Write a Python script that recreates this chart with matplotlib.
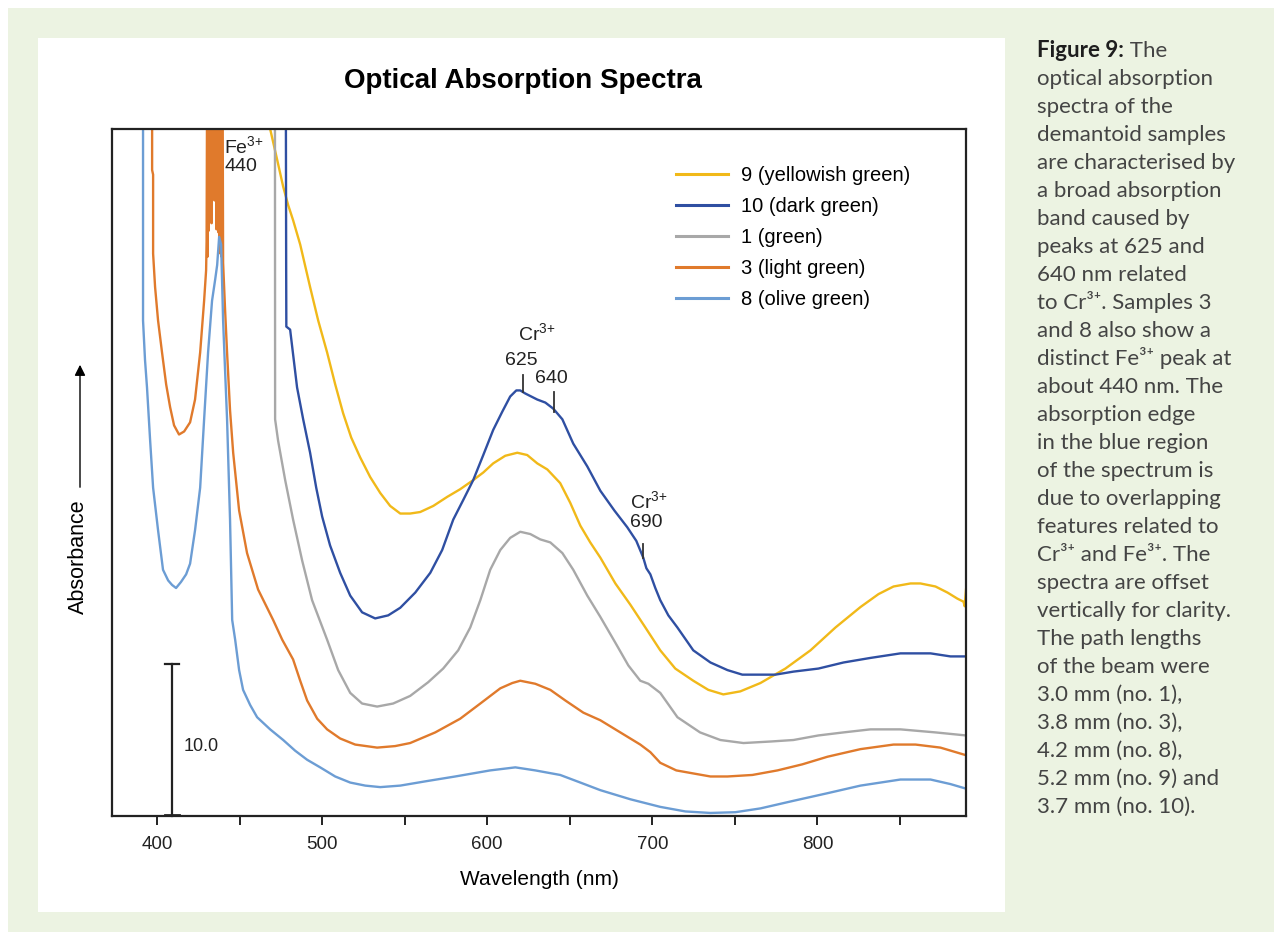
import matplotlib
matplotlib.use("Agg")
import matplotlib.pyplot as plt
from matplotlib.patches import Rectangle

plt.rcParams['font.family'] = ['Liberation Sans', 'DejaVu Sans']
plt.rcParams['mathtext.fontset'] = 'custom'
plt.rcParams['mathtext.rm'] = 'Liberation Sans'
plt.rcParams['mathtext.default'] = 'regular'

# spectra (wavelength in nm, absorbance in arbitrary offset units)
wl_9 = [468.0, 468.5, 472.7, 476.4, 479.4, 482.4, 486.7, 492.7, 497.6, 503.0, 507.9, 512.7, 517.6,
        523.0, 529.1, 535.2, 541.2, 547.3, 553.3, 559.4, 567.3, 575.8, 583.6, 591.5, 597.6, 603.6,
        610.9, 618.2, 624.2, 630.3, 636.4, 644.2, 650.3, 656.4, 662.4, 668.5, 677.6, 686.7, 695.8,
        704.8, 713.9, 724.8, 733.9, 743.0, 753.3, 765.5, 780.6, 795.8, 810.9, 826.1, 837.0, 846.1,
        856.4, 862.4, 871.5, 878.8, 884.8, 888.5, 889.2, 890.0]
ab_9 = [48.0, 45.2, 43.2, 41.4, 40.2, 39.2, 37.6, 34.8, 32.6, 30.5, 28.4, 26.5, 24.9,
        23.6, 22.3, 21.25, 20.4, 19.9, 19.9, 20.0, 20.4, 21.0, 21.5, 22.1, 22.6, 23.2,
        23.7, 23.9, 23.75, 23.2, 22.8, 21.9, 20.6, 19.1, 18.0, 17.0, 15.3, 13.9, 12.4,
        10.9, 9.7, 8.9, 8.3, 8.0, 8.2, 8.75, 9.7, 10.9, 12.4, 13.75, 14.6, 15.1,
        15.3, 15.3, 15.1, 14.7, 14.3, 14.1, 13.8, 14.9]

wl_10 = [478.0, 478.2, 478.3, 480.6, 484.8, 488.5, 492.7, 496.4, 500.0, 504.8, 510.9, 517.0, 524.2,
         532.1, 540.0, 547.3, 556.4, 565.5, 572.7, 579.4, 585.5, 591.5, 597.6, 603.6, 609.1, 613.9,
         617.6, 620.0, 623.0, 630.3, 635.2, 640.0, 645.5, 652.1, 660.6, 668.5, 677.0, 684.8, 690.3,
         694.5, 696.4, 698.8, 701.8, 704.8, 709.7, 715.2, 724.8, 735.2, 745.5, 754.5, 763.6, 774.5,
         785.5, 800.6, 815.8, 832.1, 850.3, 868.5, 880.6, 890.0]
ab_10 = [48.0, 36.0, 32.2, 32.0, 28.2, 26.1, 23.9, 21.6, 19.7, 17.8, 16.0, 14.5, 13.4,
         13.0, 13.2, 13.7, 14.7, 16.0, 17.5, 19.5, 20.8, 22.1, 23.75, 25.4, 26.6, 27.6,
         28.0, 28.0, 27.8, 27.4, 27.2, 26.8, 26.1, 24.5, 23.0, 21.4, 20.1, 19.0, 18.1,
         17.0, 16.3, 15.9, 15.0, 14.2, 13.2, 12.4, 10.9, 10.1, 9.6, 9.3, 9.3, 9.3,
         9.5, 9.7, 10.1, 10.4, 10.7, 10.7, 10.5, 10.5]

wl_1 = [471.4, 471.5, 473.3, 477.6, 482.4, 487.9, 493.9, 503.0, 509.7, 517.0, 524.2, 533.3, 543.0,
        553.3, 564.2, 573.3, 582.4, 589.7, 595.8, 601.8, 607.9, 613.9, 620.0, 626.1, 632.1, 638.2,
        645.5, 652.1, 660.6, 668.5, 677.6, 685.5, 692.7, 697.6, 704.8, 715.2, 728.9, 741.2, 755.2,
        771.5, 785.5, 800.6, 815.8, 832.1, 850.3, 871.5, 890.0]
ab_1 = [48.0, 26.1, 24.7, 22.1, 19.5, 16.8, 14.2, 11.6, 9.6, 8.1, 7.4, 7.2, 7.4,
        7.9, 8.8, 9.7, 10.9, 12.4, 14.2, 16.2, 17.5, 18.3, 18.7, 18.55, 18.2, 18.0,
        17.3, 16.2, 14.5, 13.1, 11.4, 9.9, 8.9, 8.7, 8.1, 6.5, 5.5, 5.0, 4.8,
        4.9, 5.0, 5.3, 5.5, 5.7, 5.7, 5.5, 5.3]

# sample 3 is saturated and noisy around the 440 nm Fe3+ peak
wl_3 = [397.0, 397.0, 397.6, 397.6, 398.8, 400.6, 403.0, 405.5, 407.9, 410.3, 413.3, 416.4, 420.0,
        423.0, 426.1, 428.5, 429.7,
        430.0, 430.3, 430.6, 430.9, 431.2, 431.5, 431.8, 432.1, 432.4, 432.7, 433.0, 433.3, 433.6,
        433.9, 434.2, 434.5, 434.8, 435.1, 435.4, 435.7, 436.0, 436.3, 436.6, 436.9, 437.2, 437.5,
        437.8, 438.1, 438.4, 438.7, 439.0, 439.3, 439.7,
        440.0, 441.2, 442.4, 444.2, 446.1, 449.7, 454.5, 461.2, 470.3, 475.8, 482.4, 486.7, 490.9,
        497.0, 503.0, 510.9, 520.0, 533.3, 544.2, 553.3, 568.5, 583.6, 595.8, 607.9, 615.2, 620.0,
        629.1, 638.2, 647.3, 658.2, 668.5, 680.6, 692.7, 698.8, 704.8, 714.5, 724.8, 735.2, 745.5,
        760.6, 775.8, 790.9, 806.1, 826.1, 846.1, 859.4, 874.5, 890.0]
ab_3 = [48.0, 42.5, 42.2, 37.0, 34.8, 32.6, 30.5, 28.4, 26.9, 25.7, 25.1, 25.3, 25.9,
        27.4, 30.5, 33.9, 35.9,
        37.8, 48.0, 36.8, 48.0, 38.5, 48.0, 40.2, 48.0, 41.5, 48.0, 39.0, 48.0, 40.8,
        48.0, 42.0, 48.0, 40.5, 48.0, 41.0, 48.0, 38.6, 48.0, 40.0, 48.0, 38.4, 48.0,
        37.6, 48.0, 37.0, 48.0, 36.8, 48.0, 48.0,
        36.4, 33.3, 30.5, 26.7, 23.9, 20.1, 17.3, 14.9, 12.9, 11.6, 10.3, 8.9, 7.6,
        6.4, 5.7, 5.1, 4.7, 4.5, 4.6, 4.8, 5.5, 6.4, 7.4, 8.4, 8.75, 8.9,
        8.7, 8.3, 7.6, 6.8, 6.3, 5.5, 4.7, 4.2, 3.5, 3.0, 2.8, 2.6, 2.6,
        2.7, 3.0, 3.4, 3.9, 4.4, 4.7, 4.7, 4.5, 4.0]

wl_8 = [391.5, 391.5, 392.7, 393.9, 395.8, 397.6, 400.6, 403.6, 406.7, 409.1, 411.5, 414.5, 417.6,
        420.0, 423.0, 426.1, 428.5, 430.9, 433.3, 435.2, 436.4, 437.6, 438.8, 440.0, 441.2, 442.4,
        444.2, 445.5, 447.3, 449.7, 452.1, 456.4, 460.6, 468.5, 476.4, 483.6, 490.9, 498.8, 507.9,
        517.0, 526.1, 535.2, 547.3, 563.6, 580.6, 601.8, 617.0, 629.1, 644.2, 656.4, 668.5, 686.7,
        704.8, 720.0, 735.2, 750.3, 765.5, 785.5, 806.1, 826.1, 850.3, 868.5, 880.6, 890.0]
ab_8 = [48.0, 32.6, 30.0, 28.2, 24.7, 21.6, 18.8, 16.2, 15.5, 15.2, 15.0, 15.4, 15.9,
        16.6, 18.8, 21.6, 26.1, 30.5, 33.9, 35.3, 36.25, 38.1, 37.6, 32.6, 29.3, 26.1,
        19.5, 12.9, 11.6, 9.6, 8.3, 7.3, 6.5, 5.7, 5.0, 4.3, 3.7, 3.2, 2.6,
        2.2, 2.0, 1.9, 2.0, 2.3, 2.6, 3.0, 3.2, 3.0, 2.7, 2.2, 1.7, 1.1,
        0.6, 0.3, 0.2, 0.25, 0.5, 1.0, 1.5, 2.0, 2.4, 2.4, 2.1, 1.8]

labels = ["9 (yellowish green)", "10 (dark green)", "1 (green)", "3 (light green)", "8 (olive green)"]
colors = ["#f1b919", "#2f4fa2", "#a8a8a8", "#e07a2c", "#6c9dd4"]
series = [(wl_9, ab_9), (wl_10, ab_10), (wl_1, ab_1), (wl_3, ab_3), (wl_8, ab_8)]

xticks = [400, 500, 600, 700, 800]
xminor = [450, 550, 650, 750, 850]

caption = [
    "optical absorption",
    "spectra of the",
    "demantoid samples",
    "are characterised by",
    "a broad absorption",
    "band caused by",
    "peaks at 625 and",
    "640 nm related",
    "to Cr³⁺. Samples 3",
    "and 8 also show a",
    "distinct Fe³⁺ peak at",
    "about 440 nm. The",
    "absorption edge",
    "in the blue region",
    "of the spectrum is",
    "due to overlapping",
    "features related to",
    "Cr³⁺ and Fe³⁺. The",
    "spectra are offset",
    "vertically for clarity.",
    "The path lengths",
    "of the beam were",
    "3.0 mm (no. 1),",
    "3.8 mm (no. 3),",
    "4.2 mm (no. 8),",
    "5.2 mm (no. 9) and",
    "3.7 mm (no. 10).",
]

W, H = 1282, 940
fig = plt.figure(figsize=(W / 100, H / 100), dpi=100)
fig.patch.set_facecolor("white")
fig.patches.append(Rectangle((8 / W, 8 / H), 1266 / W, 924 / H, transform=fig.transFigure,
                             facecolor="#ecf3e2", edgecolor="none", zorder=-5))
fig.patches.append(Rectangle((38 / W, 28 / H), 967 / W, 874 / H, transform=fig.transFigure,
                             facecolor="white", edgecolor="none", zorder=-4))

ax = fig.add_axes([112 / W, 1 - 816 / H, 854 / W, 687 / H])
for (wl, ab), c, lab in zip(series, colors, labels):
    ax.plot(wl, ab, color=c, lw=1.7, label=lab, solid_joinstyle="round")

ax.set_xlim(372.7, 890)
ax.set_ylim(0, 45.2)
ax.set_yticks([])
ax.set_xticks(xticks)
ax.set_xticks(xminor, minor=True)
ax.tick_params(axis="x", which="both", direction="out", length=6.5, width=1.4, labelsize=13.5,
               pad=8, colors="#222222")
for s in ax.spines.values():
    s.set_linewidth(1.6)
    s.set_color("#222222")

fig.text(523 / W, 1 - 81 / H, "Optical Absorption Spectra", fontsize=20, fontweight="bold",
         ha="center", va="center")
ax.set_xlabel("Wavelength (nm)", fontsize=15, labelpad=12)

leg = ax.legend(loc="upper left", bbox_to_anchor=(0.660, 0.946), frameon=False, fontsize=14.5,
                handlelength=2.6, handletextpad=0.65, labelspacing=0.6, borderpad=0,
                borderaxespad=0)
for h in leg.get_lines():
    h.set_linewidth(2.2)

# peak annotations
ann_kw = dict(fontsize=14, color="#222222")
ax.text(440.6, 44.1, r"Fe$^{3{+}}$", ha="left", va="center", **ann_kw)
ax.text(440.6, 42.7, "440", ha="left", va="center", **ann_kw)
ax.text(630.3, 31.8, r"Cr$^{3{+}}$", ha="center", va="center", **ann_kw)
ax.text(620.6, 30.0, "625", ha="center", va="center", **ann_kw)
ax.text(638.8, 28.8, "640", ha="center", va="center", **ann_kw)
ax.plot([621.8, 621.8], [27.9, 29.0], color="#333333", lw=1.3)
ax.plot([640.6, 640.6], [26.6, 27.9], color="#333333", lw=1.3)
ax.text(698.0, 20.7, r"Cr$^{3{+}}$", ha="center", va="center", **ann_kw)
ax.text(696.4, 19.3, "690", ha="center", va="center", **ann_kw)
ax.plot([694.5, 694.5], [17.0, 17.9], color="#333333", lw=1.3)

# 10.0 scale bar
ax.plot([409.1, 409.1], [0, 10], color="#222222", lw=1.6, clip_on=False)
ax.plot([405.0, 413.2], [10, 10], color="#222222", lw=1.6)
ax.plot([405.0, 413.2], [0.05, 0.05], color="#222222", lw=2.0, clip_on=False)
ax.text(415.8, 4.6, "10.0", ha="left", va="center", fontsize=13, color="#222222")

# y label with arrow
fig.text(78 / W, 1 - 557 / H, "Absorbance", rotation=90, ha="center", va="center", fontsize=15.5)
ax.annotate("", xy=(80 / W, 1 - 362 / H), xycoords="figure fraction",
            xytext=(80 / W, 1 - 490 / H), textcoords="figure fraction",
            arrowprops=dict(arrowstyle="-|>", lw=1.0, color="black", mutation_scale=16))

# caption on the right
cap_x = 1037 / W
cap_font = ["Lato", "DejaVu Sans"]
cap_size = 16
base0 = 57
t = fig.text(cap_x, 1 - base0 / H, "Figure 9:", fontsize=cap_size, fontweight="bold",
             family=cap_font, color="#1e1e1e", va="baseline")
fig.canvas.draw()
bb = t.get_window_extent()
fig.text(bb.x1 / W, 1 - base0 / H, " The", fontsize=cap_size, family=cap_font, color="#444444",
         va="baseline")
for i, line in enumerate(caption, start=1):
    fig.text(cap_x, 1 - (base0 + 28.0 * i) / H, line, fontsize=cap_size, family=cap_font,
             color="#444444", va="baseline")

fig.savefig("out.png", dpi=100)
